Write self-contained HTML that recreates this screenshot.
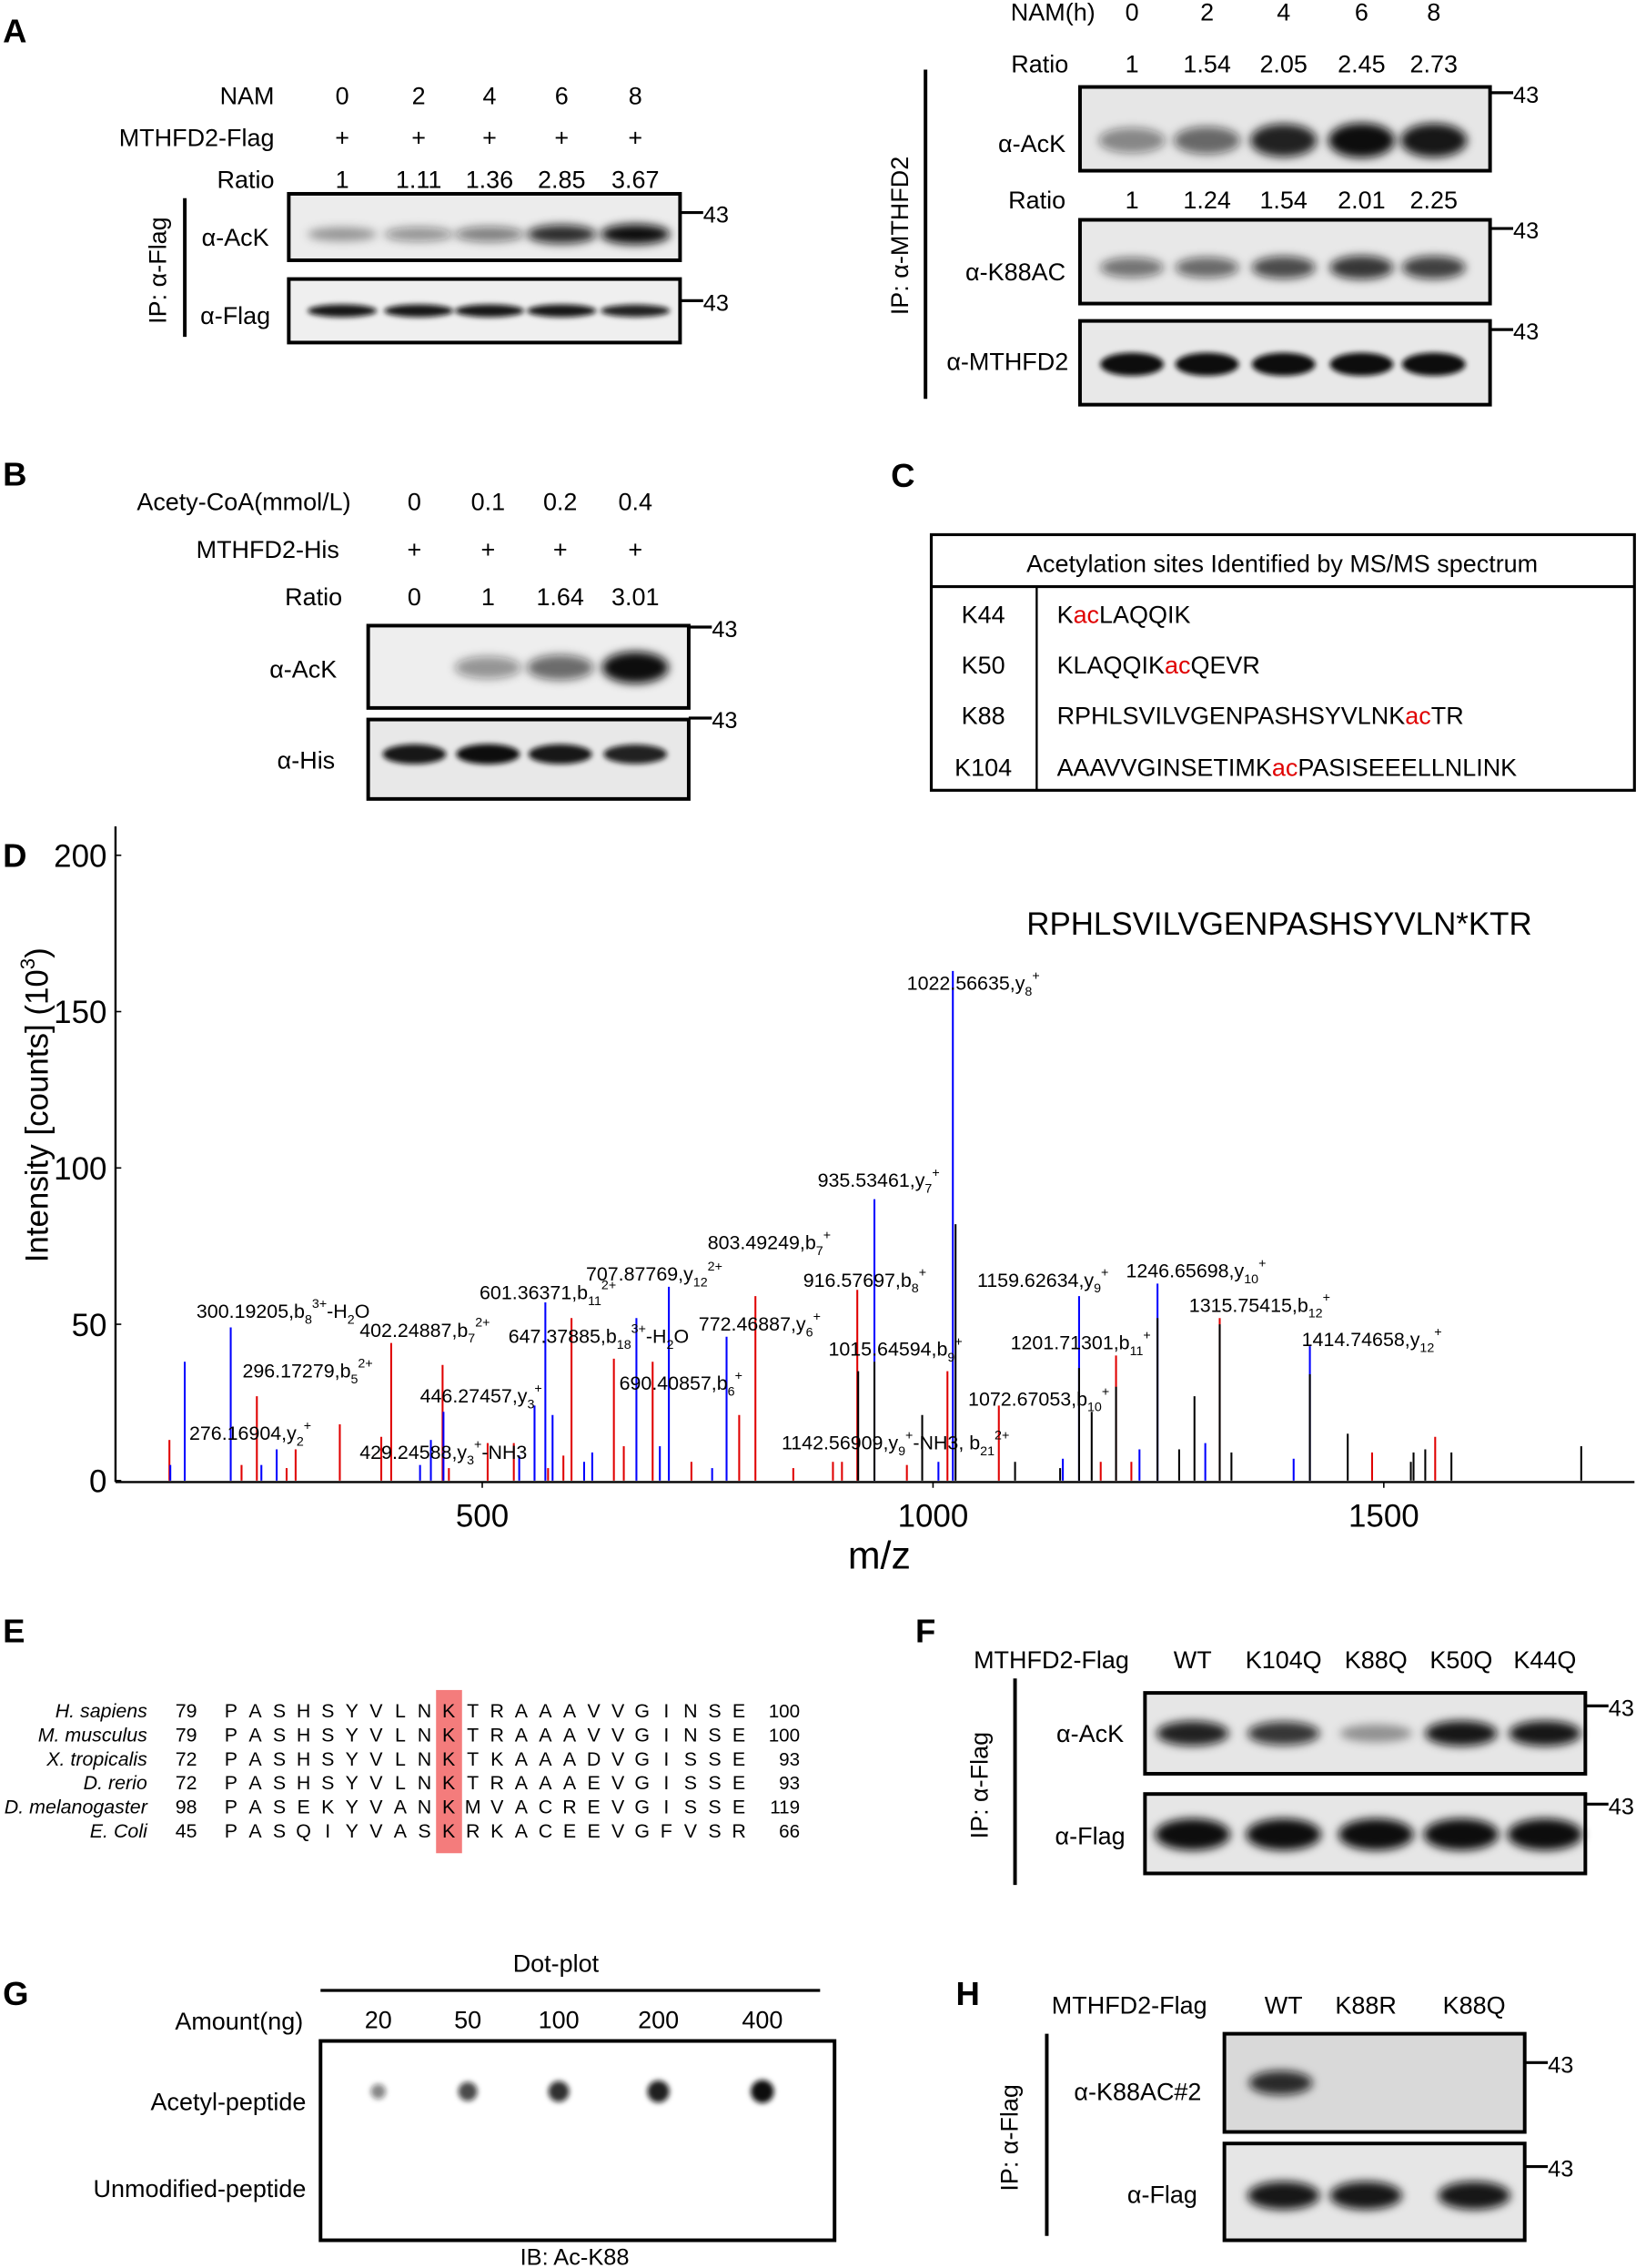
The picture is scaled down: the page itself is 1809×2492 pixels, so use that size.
<!DOCTYPE html>
<html><head><meta charset="utf-8"><style>
html,body{margin:0;padding:0;background:#fff;}
svg{display:block;font-family:"Liberation Sans",Arial,sans-serif;}
</style></head><body>
<svg id="fig" width="1809" height="2492" viewBox="0 0 1140 1570" xmlns="http://www.w3.org/2000/svg">
<defs>
<filter id="bl" x="-50%" y="-100%" width="200%" height="300%"><feGaussianBlur stdDeviation="3.2"/></filter>
<filter id="bl2" x="-50%" y="-100%" width="200%" height="300%"><feGaussianBlur stdDeviation="1.8"/></filter>
</defs>
<g id="static" font-size="17" fill="#000">
<text x="2" y="29" font-size="23" font-weight="bold">A</text>
<text x="2" y="336" font-size="23" font-weight="bold">B</text>
<text x="617" y="337" font-size="23" font-weight="bold">C</text>
<text x="2" y="600" font-size="23" font-weight="bold">D</text>
<text x="2" y="1137" font-size="23" font-weight="bold">E</text>
<text x="634" y="1137" font-size="23" font-weight="bold">F</text>
<text x="2" y="1388" font-size="23" font-weight="bold">G</text>
<text x="662" y="1388" font-size="23" font-weight="bold">H</text>

<g>
<rect x="645" y="370" width="487" height="177" fill="none" stroke="#000" stroke-width="2"/>
<line x1="645" y1="406" x2="1132" y2="406" stroke="#000" stroke-width="2"/>
<line x1="718" y1="406" x2="718" y2="547" stroke="#000" stroke-width="1.5"/>
<text x="888" y="396" text-anchor="middle">Acetylation sites Identified by MS/MS spectrum</text>
<text x="681" y="431" text-anchor="middle">K44</text>
<text x="681" y="466" text-anchor="middle">K50</text>
<text x="681" y="501" text-anchor="middle">K88</text>
<text x="681" y="537" text-anchor="middle">K104</text>
<text x="732" y="431">K<tspan fill="#e00000">ac</tspan>LAQQIK</text>
<text x="732" y="466">KLAQQIK<tspan fill="#e00000">ac</tspan>QEVR</text>
<text x="732" y="501">RPHLSVILVGENPASHSYVLNK<tspan fill="#e00000">ac</tspan>TR</text>
<text x="732" y="537">AAAVVGINSETIMK<tspan fill="#e00000">ac</tspan>PASISEEELLNLINK</text>
</g>
</g>
<g id="blots"></g>
<g id="spectrum"></g>
<g id="align"></g>
</svg>
<script>
const NS="http://www.w3.org/2000/svg";
function mk(parent,tag,attrs,txt){const e=document.createElementNS(NS,tag);for(const k in attrs)e.setAttribute(k,attrs[k]);if(txt!==undefined)e.textContent=txt;parent.appendChild(e);return e;}
const B=document.getElementById('blots');

const aLeftLanes=["0","2","4","6","8"];
const aLeftRatio=["1","1.11","1.36","2.85","3.67"];
const aLeftAck=[0.3,0.35,0.45,0.85,1.0];
const aLeftFlag=[0.95,0.95,0.95,0.95,0.9];
const aRightLanes=["0","2","4","6","8"];
const aRightRatio1=["1","1.54","2.05","2.45","2.73"];
const aRightRatio2=["1","1.24","1.54","2.01","2.25"];
const aRightAck=[0.4,0.55,0.9,1.0,0.95];
const aRightK88=[0.5,0.55,0.7,0.8,0.75];
const aRightM=[1,1,1,1,1];
const bLanes=["0","0.1","0.2","0.4"];
const bRatio=["0","1","1.64","3.01"];
const bAck=[0.0,0.35,0.55,1.0];
const bHis=[0.95,1,0.95,0.9];
const fLanes=["WT","K104Q","K88Q","K50Q","K44Q"];
const fAck=[0.9,0.8,0.3,0.95,0.95];
const fFlag=[1,1,1,1,1];
const gAmounts=["20","50","100","200","400"];
const gDots=[0.3,0.65,0.8,0.9,1.0];
const hLanes=["WT","K88R","K88Q"];
const hK88=[0.85,0.0,0.0];
const hFlag=[0.95,0.95,0.95];

function txt(x,y,s,o={}){return mk(B,'text',Object.assign({x:x,y:y,'font-size':17},o),s);}
function box(x,y,w,h,bg){const g=mk(B,'g',{});mk(g,'rect',{x:x,y:y,width:w,height:h,fill:bg||'#e9e9e9',stroke:'#000','stroke-width':2.5});return g;}
function bands(g,xs,cy,vals,w,h,blur){xs.forEach((x,i)=>{if(vals[i]<=0.01)return;const e=mk(g,'ellipse',{cx:x,cy:cy,rx:w/2,ry:h*(0.55+0.45*vals[i])/2,fill:'#111','fill-opacity':Math.min(1,0.1+0.9*vals[i]),filter:'url(#'+(blur||'bl')+')'});

});}
function mw(x,y,lx){mk(B,'line',{x1:lx,y1:y,x2:x+16,y2:y,stroke:'#000','stroke-width':2});txt(x+16,y+7,'43',{'font-size':16});}

const aLx=[237,290,339,389,440];
txt(190,72,'NAM',{'text-anchor':'end'});txt(190,101,'MTHFD2-Flag',{'text-anchor':'end'});txt(190,130,'Ratio',{'text-anchor':'end'});
aLx.forEach((x,i)=>{txt(x,72,aLeftLanes[i],{'text-anchor':'middle'});txt(x,101,'+',{'text-anchor':'middle'});txt(x,130,aLeftRatio[i],{'text-anchor':'middle'});});
let g=box(200,134,271,46,'#ececec');bands(g,aLx,162,aLeftAck,48,14);
g=box(200,193,271,44,'#efefef');bands(g,aLx,215,aLeftFlag,48,9,'bl2');
txt(163,170,'α-AcK',{'text-anchor':'middle'});txt(163,224,'α-Flag',{'text-anchor':'middle'});
mw(471,147,471);mw(471,208,471);
mk(B,'line',{x1:128,y1:137,x2:128,y2:233,stroke:'#000','stroke-width':2.5});
txt(0,0,'IP: α-Flag',{'text-anchor':'middle',transform:'translate(115,187) rotate(-90)'});

const aRx=[784,836,889,943,993];
txt(700,14,'NAM(h)');txt(740,50,'Ratio',{'text-anchor':'end'});txt(738,144,'Ratio',{'text-anchor':'end'});
aRx.forEach((x,i)=>{txt(x,14,aRightLanes[i],{'text-anchor':'middle'});txt(x,50,aRightRatio1[i],{'text-anchor':'middle'});txt(x,144,aRightRatio2[i],{'text-anchor':'middle'});});
g=box(748,60,284,58,'#e6e6e6');bands(g,aRx,97,aRightAck,46,24);
g=box(748,152,284,58,'#e8e8e8');bands(g,aRx,185,aRightK88,44,18);
g=box(748,222,284,58,'#e8e8e8');bands(g,aRx,252,aRightM,44,16,'bl2');
txt(738,105,'α-AcK',{'text-anchor':'end'});txt(738,194,'α-K88AC',{'text-anchor':'end'});txt(740,256,'α-MTHFD2',{'text-anchor':'end'});
mw(1032,64,1032);mw(1032,158,1032);mw(1032,228,1032);
mk(B,'line',{x1:641,y1:48,x2:641,y2:276,stroke:'#000','stroke-width':2.5});
txt(0,0,'IP: α-MTHFD2',{'text-anchor':'middle',transform:'translate(629,163) rotate(-90)'});

const bx=[287,338,388,440];
txt(243,353,'Acety-CoA(mmol/L)',{'text-anchor':'end'});txt(235,386,'MTHFD2-His',{'text-anchor':'end'});txt(237,419,'Ratio',{'text-anchor':'end'});
bx.forEach((x,i)=>{txt(x,353,bLanes[i],{'text-anchor':'middle'});txt(x,386,'+',{'text-anchor':'middle'});txt(x,419,bRatio[i],{'text-anchor':'middle'});});
g=box(255,433,222,57,'#eeeeee');bands(g,bx,462,bAck,46,22);
g=box(255,498,222,55,'#e8e8e8');bands(g,bx,522,bHis,44,14,'bl2');
txt(210,469,'α-AcK',{'text-anchor':'middle'});txt(212,532,'α-His',{'text-anchor':'middle'});
mw(477,434,477);mw(477,497,477);

const fx=[826,889,953,1012,1070];
txt(782,1155,'MTHFD2-Flag',{'text-anchor':'end'});
fx.forEach((x,i)=>txt(x,1155,fLanes[i],{'text-anchor':'middle'}));
g=box(793,1172,305,56,'#e6e6e6');bands(g,fx,1200,fAck,50,18);
g=box(793,1242,305,55,'#e6e6e6');bands(g,fx,1270,fFlag,52,22);
txt(755,1206,'α-AcK',{'text-anchor':'middle'});txt(755,1277,'α-Flag',{'text-anchor':'middle'});
mw(1098,1181,1098);mw(1098,1249,1098);
mk(B,'line',{x1:703,y1:1162,x2:703,y2:1305,stroke:'#000','stroke-width':2.5});
txt(0,0,'IP: α-Flag',{'text-anchor':'middle',transform:'translate(684,1236) rotate(-90)'});

const gx=[262,324,387,456,528];
txt(385,1365,'Dot-plot',{'text-anchor':'middle'});
mk(B,'line',{x1:222,y1:1378,x2:568,y2:1378,stroke:'#000','stroke-width':2});
txt(210,1405,'Amount(ng)',{'text-anchor':'end'});
gx.forEach((x,i)=>txt(x,1404,gAmounts[i],{'text-anchor':'middle'}));
g=box(222,1413,356,138,'#ffffff');
gx.forEach((x,i)=>{const d=mk(g,'circle',{cx:x,cy:1448,r:4+4*gDots[i],fill:'#111','fill-opacity':0.3+0.7*gDots[i],filter:'url(#bl2)'});

});
txt(212,1461,'Acetyl-peptide',{'text-anchor':'end'});txt(212,1521,'Unmodified-peptide',{'text-anchor':'end'});
txt(398,1568,'IB: Ac-K88',{'text-anchor':'middle','font-size':16});

const hx=[889,946,1021];
txt(836,1394,'MTHFD2-Flag',{'text-anchor':'end'});
hx.forEach((x,i)=>txt(x,1394,hLanes[i],{'text-anchor':'middle'}));
g=box(848,1408,208,68,'#d9d9d9');bands(g,hx.map((x,i)=>i==0?x-2:x),1442,hK88,44,18);
g=box(848,1484,208,67,'#e6e6e6');bands(g,hx,1520,hFlag,50,20);
txt(788,1454,'α-K88AC#2',{'text-anchor':'middle'});txt(805,1525,'α-Flag',{'text-anchor':'middle'});
mw(1056,1428,1056);mw(1056,1500,1056);
mk(B,'line',{x1:725,y1:1408,x2:725,y2:1548,stroke:'#000','stroke-width':2.5});
txt(0,0,'IP: α-Flag',{'text-anchor':'middle',transform:'translate(705,1480) rotate(-90)'});

// Panel E
const species=["H. sapiens","M. musculus","X. tropicalis","D. rerio","D. melanogaster","E. Coli"];
const startNums=["79","79","72","72","98","45"];
const endNums=["100","100","93","93","119","66"];
const seqs=["PASHSYVLNKTRAAAVVGINSE","PASHSYVLNKTRAAAVVGINSE","PASHSYVLNKTKAAADVGISSE","PASHSYVLNKTRAAAEVGISSE","PASEKYVANKMVACREVGISSE","PASQIYVASKRKACEEVGFVSR"];
const A=document.getElementById('align');
const hl=mk(A,'rect',{x:302,y:1170,width:18,height:113,fill:'#f47c7c'});


species.forEach((s,r)=>{const y=1189+r*16.6;
const t=mk(A,'text',{x:102,y:y,'font-size':13.5,'font-style':'italic','text-anchor':'end'},s);


mk(A,'text',{x:129,y:y,'font-size':13.5,'text-anchor':'middle'},startNums[r]);
seqs[r].split('').forEach((c,i)=>{mk(A,'text',{x:160+i*16.75,y:y,'font-size':13.5,'text-anchor':'middle'},c);});
mk(A,'text',{x:554,y:y,'font-size':13,'text-anchor':'end'},endNums[r]);});

// Panel D
const peakMz=[153,154,170,221,233,250,255,272,283,293,342,388,399,431,443,456,457,463,506,535,541,558,570,573,578,590,599,613,622,646,657,671,689,697,707,732,755,771,785,803,845,889,899,916,917,935,935,971,988,1006,1016,1022,1025,1073,1091,1141,1144,1162,1162,1176,1186,1203,1203,1220,1229,1249,1249,1273,1290,1302,1318,1318,1331,1400,1418,1418,1460,1487,1530,1533,1546,1557,1575,1719];
const peakInt=[13,5,38,49,5,27,5,10,4,10,18,14,44,5,13,37,22,4,12,12,8,24,57,4,21,8,52,6,9,39,11,52,38,11,62,6,4,46,21,59,4,6,6,61,35,90,38,5,21,6,35,163,82,24,6,4,7,59,36,22,6,40,30,6,10,63,52,10,27,12,52,50,9,7,43,34,15,9,6,9,10,14,9,11];
const peakType=["r","b","b","b","r","r","b","b","r","r","r","r","r","b","b","r","b","r","r","r","b","b","b","r","b","r","r","b","b","r","r","b","r","b","b","r","b","b","r","r","r","r","r","r","k","b","k","r","k","b","r","b","k","r","k","k","b","b","k","k","r","r","k","r","b","b","k","k","k","b","r","k","k","b","b","k","k","r","k","k","k","r","k","k"];
const annText=["1022.56635,y|_8|^+","935.53461,y|_7|^+","803.49249,b|_7|^+","707.87769,y|_12|^2+","601.36371,b|_11|^2+","300.19205,b|_8|^3+|-H|_2|O","402.24887,b|_7|^2+","647.37885,b|_18|^3+|-H|_2|O","772.46887,y|_6|^+","916.57697,b|_8|^+","1159.62634,y|_9|^+","1246.65698,y|_10|^+","1315.75415,b|_12|^+","1414.74658,y|_12|^+","296.17279,b|_5|^2+","1015.64594,b|_9|^+","1201.71301,b|_11|^+","690.40857,b|_6|^+","446.27457,y|_3|^+","1072.67053,b|_10|^+","276.16904,y|_2|^+","429.24588,y|_3|^+|-NH3","1142.56909,y|_9|^+|-NH3, b|_21|^2+"];
const annMz=[971,872,750,615,497,183,364,529,740,856,1049,1214,1284,1409,234,884,1086,652,431,1039,175,364,832];
const annInt=[157,94,74,64,58,52,46,44,48,62,62,65,54,43,33,40,42,29,25,24,13,7,10];
const yTicks=[0,50,100,150,200];
const xTicks=[500,1000,1500];
const S=document.getElementById('spectrum');
const X=mz=>334+(mz-500)*0.6244;
const Y=v=>1025-v*2.165;
const col={r:'#e00000',b:'#0000ff',k:'#000000'};
peakMz.forEach((m,i)=>{const l=mk(S,'line',{x1:X(m),y1:Y(0),x2:X(m),y2:Y(peakInt[i]),stroke:col[peakType[i]],'stroke-width':1.3});

});
const ax=mk(S,'line',{x1:80,y1:1026,x2:1132,y2:1026,stroke:'#000','stroke-width':1.5});


const ay=mk(S,'line',{x1:80,y1:572,x2:80,y2:1026,stroke:'#000','stroke-width':1.5});


yTicks.forEach(v=>{mk(S,'line',{x1:80,y1:Y(v),x2:84,y2:Y(v),stroke:'#000'});
const t=mk(S,'text',{x:74,y:Y(v)+8,'font-size':22,'text-anchor':'end'},String(v));

});
xTicks.forEach(v=>{mk(S,'line',{x1:X(v),y1:1026,x2:X(v),y2:1030,stroke:'#000'});
const t=mk(S,'text',{x:X(v),y:1057,'font-size':22,'text-anchor':'middle'},String(v));

});
const xt=mk(S,'text',{x:609,y:1086,'font-size':27,'text-anchor':'middle'},'m/z');


const yt=mk(S,'text',{'font-size':22,'text-anchor':'middle',transform:'translate(33,765) rotate(-90)'});


yt.appendChild(document.createTextNode('Intensity [counts] (10'));
mk(yt,'tspan',{'font-size':14,dy:-9},'3');
mk(yt,'tspan',{dy:9},')');
const pt=mk(S,'text',{x:711,y:647,'font-size':22},'RPHLSVILVGENPASHSYVLN*KTR');


annText.forEach((s,i)=>{const t=mk(S,'text',{x:X(annMz[i]),y:Y(annInt[i]),'font-size':13.5});


let cur=0;
s.split('|').forEach(p=>{let off=0,fs=13.5,str=p;
if(p[0]==='_'){off=4;fs=9;str=p.slice(1);}else if(p[0]==='^'){off=-7;fs=9;str=p.slice(1);}
mk(t,'tspan',{'font-size':fs,dy:off-cur},str);cur=off;});});
</script>
</body></html>
